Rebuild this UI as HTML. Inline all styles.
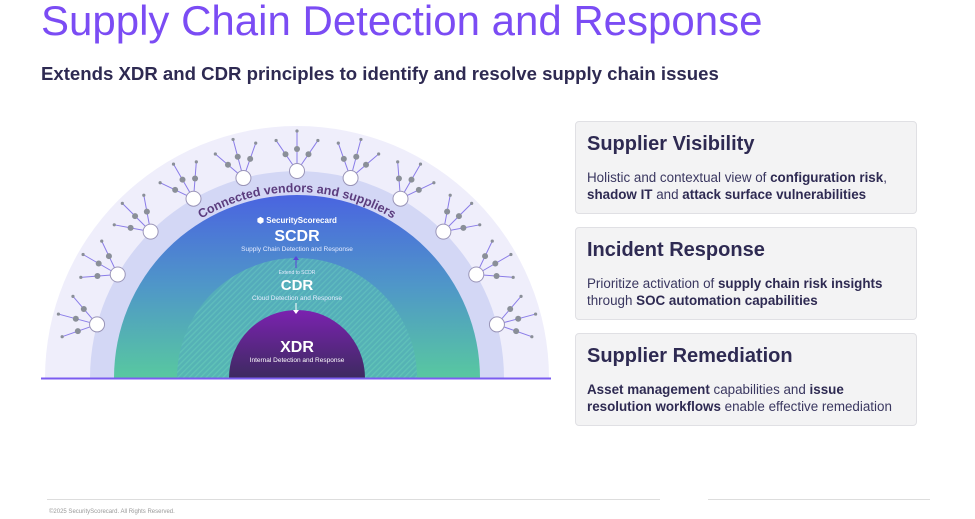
<!DOCTYPE html>
<html><head><meta charset="utf-8"><style>
body{margin:0;width:975px;height:519px;background:#fff;font-family:"Liberation Sans",sans-serif;position:relative;overflow:hidden;color:#2e2a52}
.t{position:absolute;left:41px;top:-3px;font-size:42px;color:#7b4cf4;white-space:nowrap}
.s{position:absolute;left:41px;top:63px;font-size:18.6px;font-weight:bold;white-space:nowrap}
.c{position:absolute;left:575px;width:342px;height:93px;background:#f3f3f4;border:1px solid #e0e0e4;border-radius:4px;box-sizing:border-box;padding:0 11px}
.c h3{margin:11px 0 0;font-size:20px;font-weight:bold}
.c p{margin:13px 0 0;font-size:13.4px;line-height:17px;color:#3a3760}
.c b{color:#2e2a52}
</style></head><body>
<div class="t">Supply Chain Detection and Response</div>
<div class="s">Extends XDR and CDR principles to identify and resolve supply chain issues</div>
<svg width="975" height="519" style="position:absolute;left:0;top:0">
<defs>
<linearGradient id="g1" x1="0" y1="0" x2="0" y2="1"><stop offset="0" stop-color="#4a64e0"/><stop offset="0.5" stop-color="#4f97c8"/><stop offset="1" stop-color="#58c8a0"/></linearGradient>
<linearGradient id="g2" x1="0" y1="0" x2="0" y2="1"><stop offset="0" stop-color="#7b22b0"/><stop offset="1" stop-color="#3d2a60"/></linearGradient>
<pattern id="h" width="4" height="4" patternUnits="userSpaceOnUse" patternTransform="rotate(45)"><rect width="4" height="4" fill="#55b0b8"/><rect width="1.3" height="4" fill="#62c4bc"/></pattern>
</defs>
<path d="M45 378 A252 252 0 0 1 549 378Z" fill="#efeefb"/>
<path d="M90 378 A207 207 0 0 1 504 378Z" fill="#d3d7f5"/>
<path d="M114 378 A183 183 0 0 1 480 378Z" fill="url(#g1)"/>
<path d="M177 378 A120 120 0 0 1 417 378Z" fill="url(#h)" opacity="0.8"/>
<path d="M229 378 A68 68 0 0 1 365 378Z" fill="url(#g2)"/>
<g id="nodes"></g>
<line x1="41" y1="378.5" x2="551" y2="378.5" stroke="#7b5cf0" stroke-width="2"/>
<path id="arc" d="M111 378 A186 186 0 0 1 483 378" fill="none"/>
<text font-size="12.5" fill="#5b3c7e" font-weight="bold"><textPath href="#arc" startOffset="50%" text-anchor="middle">Connected vendors and suppliers</textPath></text>
<g fill="#fff" text-anchor="middle">
<text x="297" y="223" font-size="8" font-weight="bold">⬢ SecurityScorecard</text>
<text x="297" y="241" font-size="16" font-weight="bold">SCDR</text>
<text x="297" y="251" font-size="6.5" fill="#e6ecff">Supply Chain Detection and Response</text>
<text x="297" y="274" font-size="5" fill="#e6ecff">Extend to SCDR</text>
<text x="297" y="290" font-size="15" font-weight="bold">CDR</text>
<text x="297" y="300" font-size="6.5" fill="#e6ecff">Cloud Detection and Response</text>
<text x="297" y="352" font-size="16" font-weight="bold">XDR</text>
<text x="297" y="362" font-size="6.5">Internal Detection and Response</text>
</g>
<line x1="296" y1="268" x2="296" y2="258" stroke="#5a45d8" stroke-width="1"/>
<path d="M293 260 L296 256 L299 260Z" fill="#5a45d8"/>
<line x1="296" y1="303" x2="296" y2="312" stroke="#fff" stroke-width="1"/>
<path d="M293 310 L296 314 L299 310Z" fill="#fff"/>
<line x1="47" y1="499.5" x2="660" y2="499.5" stroke="#ddd"/>
<line x1="708" y1="499.5" x2="930" y2="499.5" stroke="#ddd"/>
<text x="49" y="513" font-size="6" fill="#999">©2025 SecurityScorecard. All Rights Reserved.</text>
</svg>
<div class="c" style="top:121px"><h3>Supplier Visibility</h3><p>Holistic and contextual view of <b>configuration risk</b>, <b>shadow IT</b> and <b>attack surface vulnerabilities</b></p></div>
<div class="c" style="top:227px"><h3>Incident Response</h3><p>Prioritize activation of <b>supply chain risk insights</b> through <b>SOC automation capabilities</b></p></div>
<div class="c" style="top:333px"><h3>Supplier Remediation</h3><p><b>Asset management</b> capabilities and <b>issue resolution workflows</b> enable effective remediation</p></div>
<script>
var g=document.getElementById('nodes'),cx=297,cy=378,s='';
for(var i=0;i<11;i++){var a=Math.PI*(165-i*15)/180,R=207;var x=cx+R*Math.cos(a),y=cy-R*Math.sin(a);
 [-0.6,0,0.6].forEach(function(d,k){var b=a+d,L=(k==1?40:37);var ex=x+L*Math.cos(b),ey=y-L*Math.sin(b);
  s+='<line x1="'+x+'" y1="'+y+'" x2="'+ex+'" y2="'+ey+'" stroke="#8a7ce8" stroke-width="1"/>';
  s+='<circle cx="'+(x+L*0.55*Math.cos(b))+'" cy="'+(y-L*0.55*Math.sin(b))+'" r="3" fill="#8a8f98"/>';
  s+='<circle cx="'+ex+'" cy="'+ey+'" r="1.6" fill="#8a8f98"/>';});
 s+='<circle cx="'+x+'" cy="'+y+'" r="7.5" fill="#fff" stroke="#9a95b8" stroke-width="1"/>';}
g.innerHTML=s;
</script>
</body></html>
